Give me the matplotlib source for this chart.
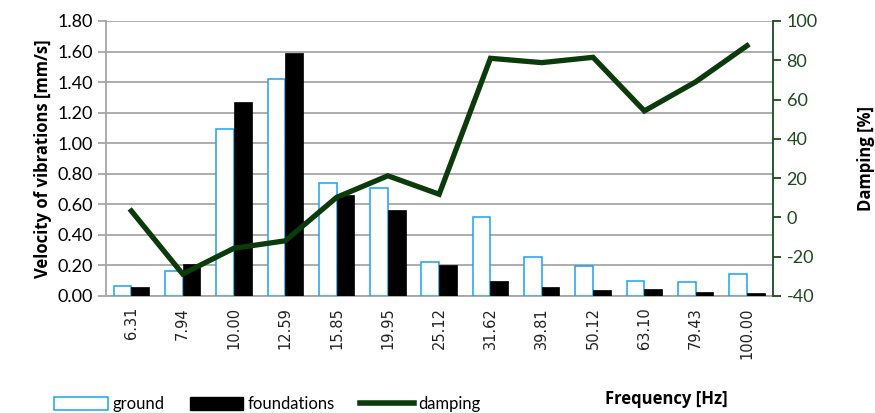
import numpy as np
import matplotlib
matplotlib.use("Agg")
import matplotlib.pyplot as plt
from matplotlib.patches import Patch
from matplotlib.lines import Line2D

freqs = ['6.31', '7.94', '10.00', '12.59', '15.85', '19.95', '25.12',
         '31.62', '39.81', '50.12', '63.10', '79.43', '100.00']
ground = [0.065, 0.165, 1.09, 1.42, 0.737, 0.71, 0.222,
          0.515, 0.257, 0.198, 0.098, 0.092, 0.146]
foundations = [0.057, 0.207, 1.27, 1.59, 0.66, 0.56, 0.20,
               0.098, 0.057, 0.037, 0.044, 0.024, 0.018]
damping = [3.3, -28.8, -15.7, -11.9, 10.2, 21.2, 11.8,
           81.0, 78.8, 81.5, 54.2, 69.0, 87.4]

green = '#0b3a0b'
tick_green = '#1d4a1d'
grid_gray = '#a6a6a6'
bold_font = ['Open Sans', 'DejaVu Sans']

plt.rcParams['font.family'] = ['Lato', 'DejaVu Sans']
plt.rcParams['axes.unicode_minus'] = False

fig = plt.figure(figsize=(8.75, 4.13), dpi=100)
ax = fig.add_axes([0.1208, 0.2833, 0.7622, 0.6659])

x = np.arange(len(freqs)) + 0.5
w = 0.345
ax.bar(x - w / 2, ground, w, facecolor='white', edgecolor='#1aa3f0', linewidth=1.1, zorder=3)
ax.bar(x + w / 2, foundations, w, facecolor='black', edgecolor='black', linewidth=0.5, zorder=3)

ax.set_xlim(0, len(freqs))
ax.set_ylim(0, 1.8)
ax.set_yticks(np.arange(0, 1.81, 0.2))
ax.set_yticklabels(['%.2f' % v for v in np.arange(0, 1.81, 0.2)], fontsize=13)
ax.yaxis.grid(True, color=grid_gray, linewidth=1.3, zorder=0)
ax.set_axisbelow(True)
ax.set_xticks(x)
ax.set_xticklabels(freqs, rotation=90, fontsize=10.5, family='DejaVu Sans', color='#222222')
ax.tick_params(axis='x', length=0, pad=8)
ax.tick_params(axis='y', length=6, color=grid_gray, width=1.3, pad=3)
for s in ['top', 'right']:
    ax.spines[s].set_visible(False)
ax.spines['left'].set_color(grid_gray)
ax.spines['left'].set_linewidth(1.3)
ax.spines['bottom'].set_color(grid_gray)
ax.spines['bottom'].set_linewidth(1.3)
ax.set_ylabel('Velocity of vibrations [mm/s]', fontsize=12, fontweight='bold',
              family=bold_font, labelpad=4)

ax2 = ax.twinx()
ax2.plot(x, damping, color=green, linewidth=3.8, solid_joinstyle='miter', zorder=4)
ax2.set_ylim(-40, 100)
ax2.set_yticks(np.arange(-40, 101, 20))
ax2.tick_params(axis='y', colors=tick_green, labelsize=13, length=6, width=1.3, pad=4)
for s in ['top', 'left', 'bottom']:
    ax2.spines[s].set_visible(False)
ax2.spines['right'].set_color(tick_green)
ax2.spines['right'].set_linewidth(1.3)
ax2.set_ylabel('Damping [%]', fontsize=12, fontweight='bold', family=bold_font, labelpad=28)

handles = [Patch(facecolor='white', edgecolor='#1aa3f0', linewidth=1.1),
           Patch(facecolor='black', edgecolor='black'),
           Line2D([0], [0], color=green, linewidth=4)]
fig.legend(handles, ['ground', 'foundations', 'damping'], loc='lower left',
           bbox_to_anchor=(0.045, -0.035), ncol=3, frameon=False, fontsize=12,
           handlelength=3.2, handleheight=0.8, handletextpad=0.3, columnspacing=1.5)

fig.text(0.762, 0.022, 'Frequency [Hz]', fontsize=12, fontweight='bold', family=bold_font,
         ha='center')

fig.savefig('out.png', dpi=100)
